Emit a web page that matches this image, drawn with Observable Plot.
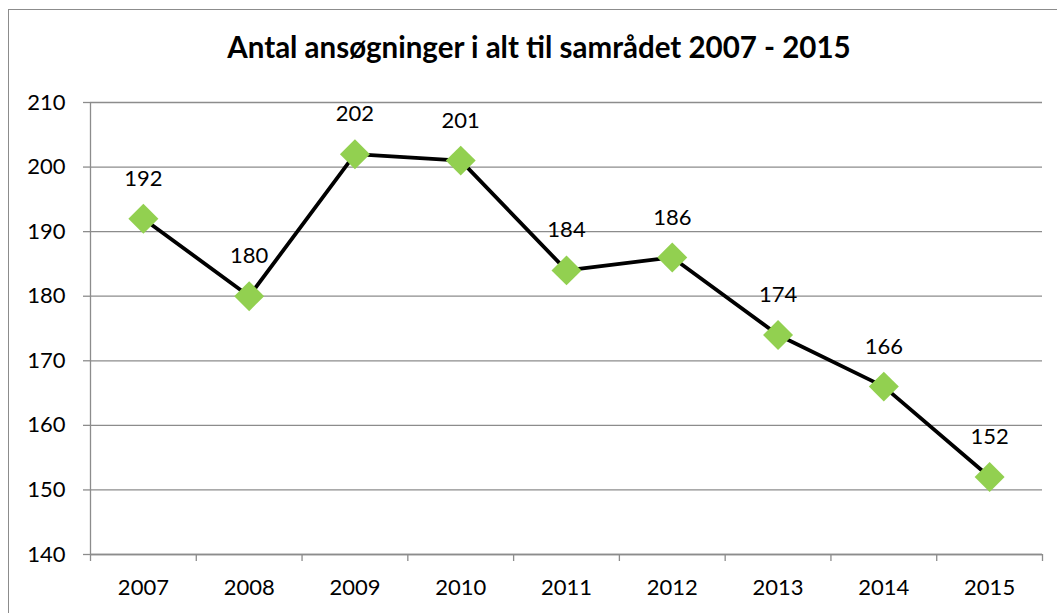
<!DOCTYPE html>
<html>
<head>
<meta charset="utf-8">
<script src="https://cdn.jsdelivr.net/npm/d3@7"></script>
<script src="https://cdn.jsdelivr.net/npm/@observablehq/plot@0.6"></script>
<style>
  html, body { margin: 0; padding: 0; background: #fff; }
  body { width: 1057px; height: 613px; position: relative; overflow: hidden; font-family: Lato, "Open Sans", sans-serif; }
  #frame { position: absolute; left: 8px; top: 9px; width: 1100px; height: 700px; border: 1px solid #8c8c8c; box-sizing: border-box; }
  #title { position: absolute; left: 0; width: 1078px; top: 32px; line-height: 1; text-align: center; font-weight: bold; font-size: 29.5px; color: #000; font-family: Lato, "Open Sans", sans-serif; white-space: nowrap; }
  #chart { position: absolute; left: 0; top: 0; }
</style>
</head>
<body>
<div id="frame"></div>
<div id="title">Antal ansøgninger i alt til samrådet 2007 - 2015</div>
<div id="chart"></div>
<script>
const years = [2007, 2008, 2009, 2010, 2011, 2012, 2013, 2014, 2015];
const applications = [192, 180, 202, 201, 184, 186, 174, 166, 152];
const yTicks = [140, 150, 160, 170, 180, 190, 200, 210];

const data = years.map((year, i) => ({year, value: applications[i]}));
const boundaries = years.map(y => y - 0.5).concat([years[years.length - 1] + 0.5]);

const gray = "#8c8c8c";
const font = "Lato, 'Open Sans', sans-serif";

const plot = Plot.plot({
  width: 1057,
  height: 613,
  marginLeft: 90,
  marginRight: 15,
  marginTop: 102,
  marginBottom: 59,
  style: {fontFamily: font, fontSize: "22px", color: "#000", background: "transparent"},
  x: {type: "linear", domain: [years[0] - 0.5, years[years.length - 1] + 0.5]},
  y: {domain: [140, 210]},
  marks: [
    Plot.gridY(yTicks, {stroke: gray, strokeOpacity: 1, strokeWidth: 1.3}),
    Plot.axisY(yTicks, {tickSize: 7, tickPadding: 18, stroke: gray, strokeWidth: 1.3, fontSize: 22, label: null, tickFormat: d => String(d)}),
    Plot.axisX(boundaries, {tickSize: 7, stroke: gray, strokeWidth: 1.3, tickFormat: () => "", label: null}),
    Plot.axisX(years, {tickSize: 0, tickPadding: 25, fontSize: 22, label: null, tickFormat: d => String(d)}),
    Plot.ruleX([years[0] - 0.5], {stroke: gray, strokeWidth: 1.3}),
    Plot.ruleY([140], {stroke: gray, strokeWidth: 1.3}),
    Plot.line(data, {x: "year", y: "value", stroke: "#000", strokeWidth: 3.8}),
    Plot.dot(data, {x: "year", y: "value", symbol: "diamond2", r: 13.5, fill: "#92D050", stroke: "none"}),
    Plot.text(data, {x: "year", y: "value", text: d => String(d.value), dy: -40, fontSize: 22, fill: "#000"})
  ]
});
document.getElementById("chart").appendChild(plot);
</script>
</body>
</html>
